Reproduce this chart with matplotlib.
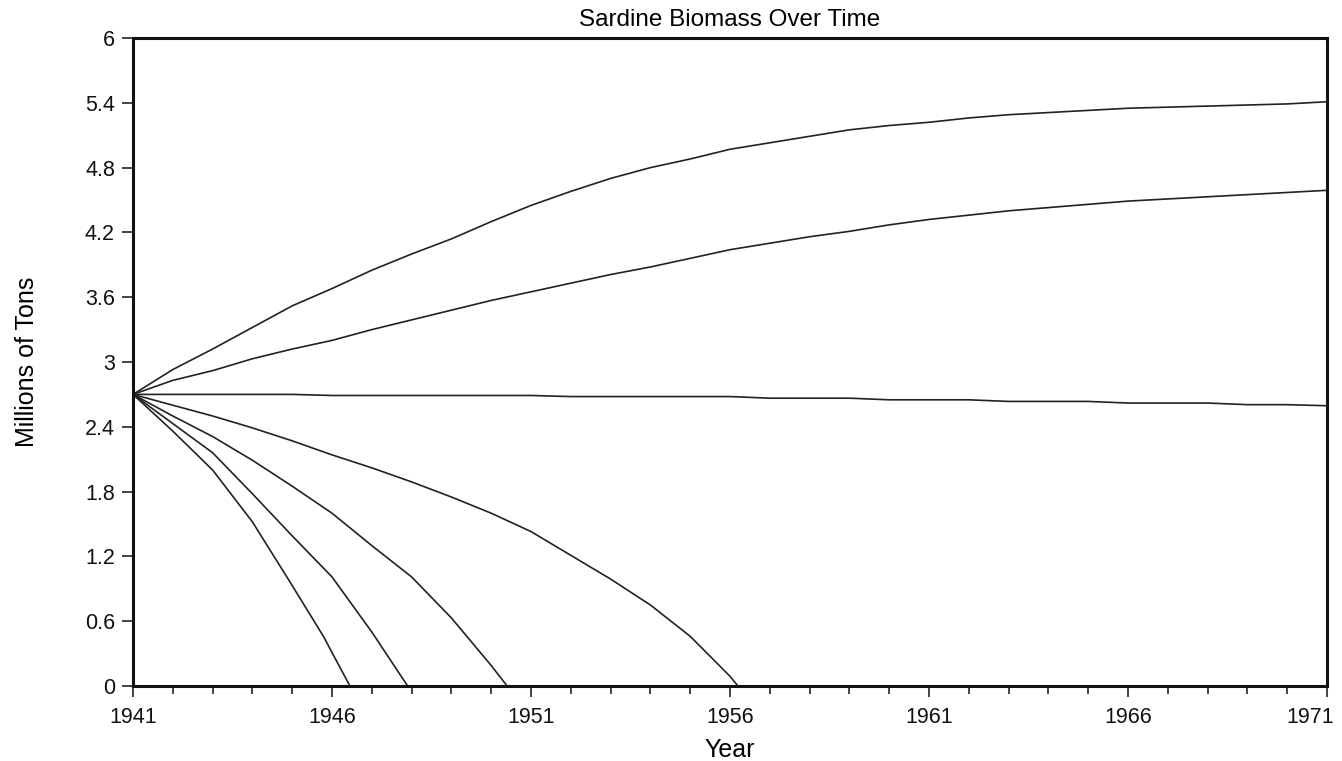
import numpy as np
import matplotlib
matplotlib.use("Agg")
import matplotlib.pyplot as plt
import matplotlib.transforms as mtransforms
from matplotlib.ticker import MultipleLocator

plt.rcParams['font.family'] = ['Liberation Sans', 'DejaVu Sans']

years = list(range(1941, 1972))

# biomass scenarios (millions of tons)
high_growth = [2.70, 2.93, 3.12, 3.32, 3.52, 3.68, 3.85, 4.00, 4.14, 4.30,
               4.45, 4.58, 4.70, 4.80, 4.88, 4.97, 5.03, 5.09, 5.15, 5.19,
               5.22, 5.26, 5.29, 5.31, 5.33, 5.35, 5.36, 5.37, 5.38, 5.39, 5.41]
mid_growth = [2.70, 2.83, 2.92, 3.03, 3.12, 3.20, 3.30, 3.39, 3.48, 3.57,
              3.65, 3.73, 3.81, 3.88, 3.96, 4.04, 4.10, 4.16, 4.21, 4.27,
              4.32, 4.36, 4.40, 4.43, 4.46, 4.49, 4.51, 4.53, 4.55, 4.57, 4.59]
steady = [2.70, 2.70, 2.70, 2.70, 2.70, 2.69, 2.69, 2.69, 2.69, 2.69,
          2.69, 2.68, 2.68, 2.68, 2.68, 2.68, 2.665, 2.665, 2.665, 2.65,
          2.65, 2.65, 2.635, 2.635, 2.635, 2.62, 2.62, 2.62, 2.605, 2.605, 2.595]

# collapsing scenarios end where the stock hits zero
decline_years_1 = [1941, 1942, 1943, 1944, 1945, 1946, 1947, 1948, 1949, 1950,
                   1951, 1952, 1953, 1954, 1955, 1956, 1956.2]
decline_1 = [2.70, 2.60, 2.50, 2.39, 2.27, 2.14, 2.02, 1.89, 1.75, 1.60,
             1.43, 1.21, 0.99, 0.75, 0.46, 0.09, 0.0]
decline_years_2 = [1941, 1942, 1943, 1944, 1945, 1946, 1947, 1948, 1949, 1950, 1950.4]
decline_2 = [2.70, 2.50, 2.31, 2.09, 1.85, 1.60, 1.30, 1.01, 0.63, 0.19, 0.0]
decline_years_3 = [1941, 1942, 1943, 1944, 1945, 1946, 1947, 1947.9]
decline_3 = [2.70, 2.43, 2.16, 1.78, 1.39, 1.01, 0.50, 0.0]
decline_years_4 = [1941, 1942, 1943, 1944, 1945, 1945.8, 1946, 1946.45]
decline_4 = [2.70, 2.36, 2.00, 1.52, 0.93, 0.45, 0.31, 0.0]

x_ticks = [1941, 1946, 1951, 1956, 1961, 1966, 1971]
y_ticks = [0, 0.6, 1.2, 1.8, 2.4, 3, 3.6, 4.2, 4.8, 5.4, 6]
y_tick_labels = ['0', '0.6', '1.2', '1.8', '2.4', '3', '3.6', '4.2', '4.8', '5.4', '6']

fig = plt.figure(figsize=(13.42, 7.61), dpi=100)
ax = fig.add_axes([0.0991, 0.0986, 0.8897, 0.8514])

line_kw = dict(color='#222222', linewidth=1.2)
ax.plot(years, high_growth, **line_kw)
ax.plot(years, mid_growth, **line_kw)
ax.plot(years, steady, **line_kw)
ax.plot(decline_years_1, decline_1, **line_kw)
ax.plot(decline_years_2, decline_2, **line_kw)
ax.plot(decline_years_3, decline_3, **line_kw)
ax.plot(decline_years_4, decline_4, **line_kw)

ax.set_xlim(1941, 1971)
ax.set_ylim(0, 6)
ax.set_xticks(x_ticks)
ax.xaxis.set_minor_locator(MultipleLocator(1))
ax.set_yticks(y_ticks)
ax.set_yticklabels(y_tick_labels)

for side in ['top', 'bottom', 'left', 'right']:
    ax.spines[side].set_linewidth(2.2)
    ax.spines[side].set_color('#111111')

ax.tick_params(axis='both', which='major', direction='out', length=8, width=1.1,
               labelsize=15.5, colors='#111111', pad=5)
ax.tick_params(axis='x', which='major', pad=7)
ax.tick_params(axis='x', which='minor', direction='out', length=5.5, width=1.1, colors='#111111')

# keep the last year label inside the picture, as in the original
last_label = ax.get_xticklabels()[-1]
last_label.set_horizontalalignment('right')
last_label.set_transform(last_label.get_transform() +
                         mtransforms.ScaledTranslation(0.07, 0, fig.dpi_scale_trans))

ax.set_title("Sardine Biomass Over Time", fontsize=17.5, pad=9)
ax.set_xlabel("Year", fontsize=18, labelpad=7)
ax.set_ylabel("Millions of Tons", fontsize=18, labelpad=33)

fig.savefig("out.png", dpi=100)
